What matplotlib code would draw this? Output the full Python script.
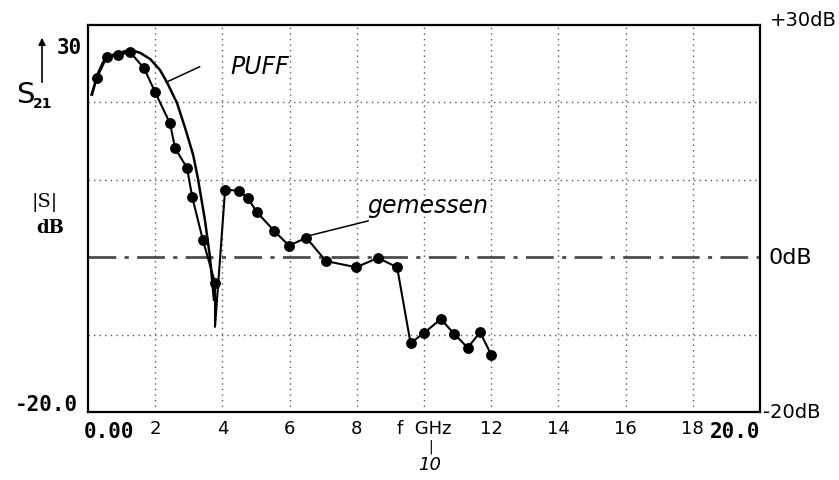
"""
S21 vs frequency: PUFF simulation against measured values.
"""

import matplotlib
matplotlib.use("Agg")
import matplotlib.pyplot as plt

# Simulated (PUFF) curve, GHz / dB
puff_f = [0.12, 0.27, 0.45, 0.65, 0.95, 1.25, 1.55, 1.85, 2.14, 2.35, 2.65,
          2.89, 3.13, 3.27, 3.48, 3.63, 3.75]
puff_db = [21.0, 23.5, 25.2, 26.0, 26.4, 26.8, 26.4, 25.6, 24.2, 22.6, 19.9,
           16.7, 13.2, 10.2, 4.8, 0.0, -5.5]

# Measured curve ("gemessen"), GHz / dB
meas_f = [0.1, 0.27, 0.56, 0.9, 1.25, 1.67, 2.0, 2.44, 2.59, 2.95, 3.1,
          3.42, 3.78, 3.78, 4.08, 4.5, 4.76, 5.03, 5.54, 5.98, 6.5, 7.08,
          7.98, 8.63, 9.2, 9.6, 10.0, 10.5, 10.9, 11.3, 11.67, 12.0]
meas_db = [21.0, 23.2, 25.9, 26.1, 26.5, 24.4, 21.3, 17.3, 14.1, 11.5, 7.8,
           2.2, -3.3, -9.0, 8.7, 8.6, 7.6, 5.8, 3.4, 1.5, 2.5, -0.5,
           -1.3, -0.1, -1.3, -11.1, -9.8, -8.0, -9.9, -11.7, -9.7, -12.6]
meas_no_marker = [0, 13]  # line start and bottom of the notch

x_grid = [2, 4, 6, 8, 10, 12, 14, 16, 18]
x_labels = ['2', '4', '6', '8', 'f  GHz', '12', '14', '16', '18']
y_grid = [-10, 10, 20]

fig = plt.figure(figsize=(8.39, 4.8), dpi=100)
ax = fig.add_axes([0.1049, 0.1417, 0.8009, 0.8063])
ax.set_xlim(0, 20)
ax.set_ylim(-20, 30)

# grid
for x in x_grid:
    ax.axvline(x, color='0.35', lw=1.0, ls=(0, (1, 3)), zorder=1)
for y in y_grid:
    ax.axhline(y, color='0.35', lw=1.0, ls=(0, (1, 3)), zorder=1)
ax.axhline(0, color='0.3', lw=2.0, ls=(0, (10, 3, 1.5, 3)), zorder=1)

# curves
ax.plot(puff_f, puff_db, color='black', lw=1.8, zorder=3)
marks = [i for i in range(len(meas_f)) if i not in meas_no_marker]
ax.plot(meas_f, meas_db, color='black', lw=1.5, marker='o', ms=6.8,
        markevery=marks, zorder=4)

# annotations
ax.plot([2.33, 3.32], [22.6, 24.6], color='black', lw=1.1)
ax.text(4.25, 24.6, 'PUFF', fontsize=17, style='italic', va='center')
ax.annotate('gemessen', xy=(6.6, 2.8), xytext=(8.3, 6.6),
            fontsize=17, style='italic', va='center',
            arrowprops=dict(arrowstyle='-', color='black', lw=1.1,
                            shrinkA=0, shrinkB=0))

# axes frame and tick labels
for s in ax.spines.values():
    s.set_linewidth(1.6)
ax.set_xticks(x_grid, labels=x_labels, fontsize=13)
ax.set_yticks([])
ax.tick_params(axis='x', length=0, pad=6)

mono = dict(family='DejaVu Sans Mono', fontsize=15, fontweight='bold')
fig.text(84 / 839, 1 - 432 / 480, '0.00', ha='left', va='center', **mono)
fig.text(760 / 839, 1 - 432 / 480, '20.0', ha='right', va='center', **mono)
fig.text(78 / 839, 1 - 405 / 480, '-20.0', ha='right', va='center', **mono)
fig.text(57 / 839, 1 - 48 / 480, '30', ha='left', va='center', **mono)
fig.text(431 / 839, 1 - 447 / 480, '|', ha='center', va='center', fontsize=10)
fig.text(430 / 839, 1 - 465 / 480, '10', ha='center', va='center',
         fontsize=13, style='italic')

# left axis label
fig.text(25 / 839, 1 - 95 / 480, 'S', ha='center', va='center', fontsize=21)
fig.text(43 / 839, 1 - 104 / 480, '21', ha='center', va='center',
         fontsize=10, fontweight='bold')
ax.annotate('', xy=(42 / 839, 1 - 35 / 480), xytext=(42 / 839, 1 - 85 / 480),
            xycoords='figure fraction', textcoords='figure fraction',
            arrowprops=dict(arrowstyle='-|>', color='black', lw=1.2))
fig.text(45 / 839, 1 - 203 / 480, '|S|', ha='center', va='center',
         fontsize=14, family='DejaVu Serif')
fig.text(50 / 839, 1 - 228 / 480, 'dB', ha='center', va='center',
         fontsize=13, fontweight='bold', family='DejaVu Serif')

# right scale
fig.text(770 / 839, 1 - 20 / 480, '+30dB', ha='left', va='center', fontsize=14)
fig.text(768 / 839, 1 - 258 / 480, '0dB', ha='left', va='center', fontsize=16)
fig.text(763 / 839, 1 - 412 / 480, '-20dB', ha='left', va='center', fontsize=14)

fig.savefig('out.png', dpi=100)
